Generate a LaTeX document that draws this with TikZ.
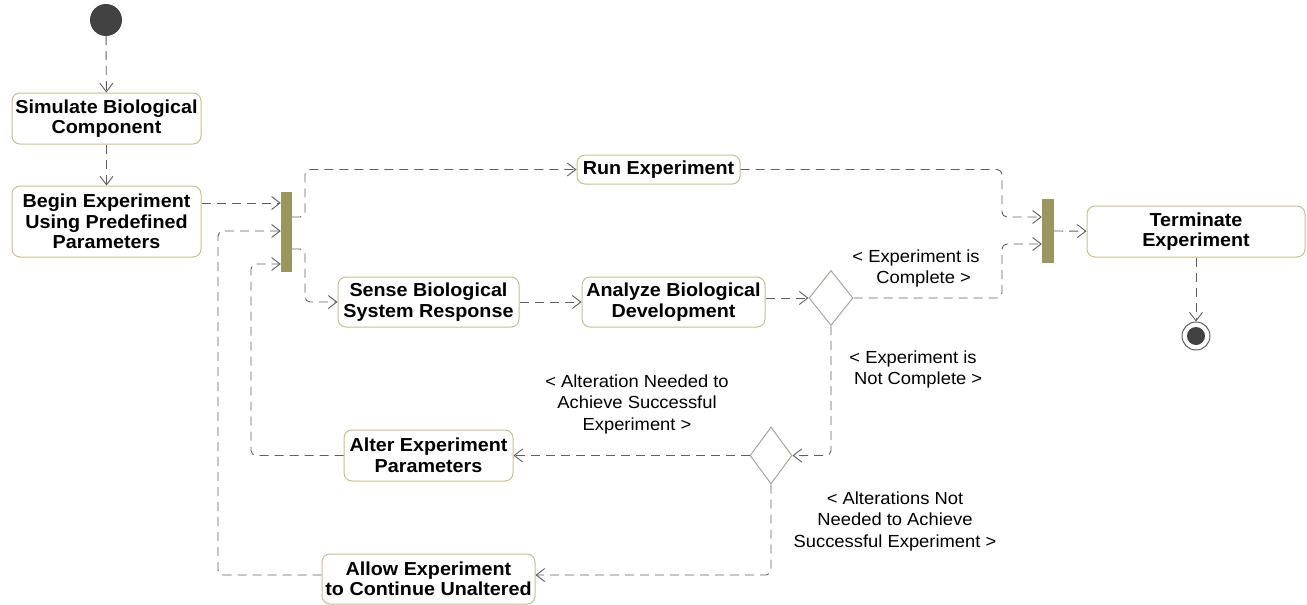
\documentclass[tikz,border=0pt]{standalone}
\usepackage{fontspec}
\setmainfont{Liberation Sans}[FakeStretch=1.05]
\usetikzlibrary{arrows.meta,shapes.geometric}

\definecolor{boxline}{RGB}{196,191,150}
\definecolor{barfill}{RGB}{153,151,95}
\definecolor{flowline}{RGB}{95,95,95}
\definecolor{diamline}{RGB}{165,165,160}
\definecolor{dotfill}{RGB}{66,66,66}

\tikzset{
  action/.style={draw=boxline, line width=1pt, fill=white, rounded corners=8pt,
    align=center, inner sep=0pt,
    font=\bfseries\fontsize{18.8}{20.5}\selectfont},
  forkbar/.style={fill=barfill, draw=none, inner sep=0pt},
  choice/.style={draw=diamline, line width=1pt, fill=white, diamond, inner sep=0pt,
    minimum width=44pt, minimum height=55pt},
  flow/.style={draw=flowline, line width=0.9pt, dash pattern=on 9pt off 6pt,
    rounded corners=5pt, -{Straight Barb[length=8.5pt,width=13pt,line width=0.9pt]}},
  guard/.style={align=center, inner sep=0pt, text=black,
    font=\fontsize{17.5}{21.5}\selectfont},
}

\begin{document}
\begin{tikzpicture}[x=1pt,y=-1pt]
\useasboundingbox (0,0) rectangle (1307,605);

% start and end points
\node[circle, fill=dotfill, minimum size=32pt, inner sep=0pt] (init) at (106,20) {};
\node[circle, draw=flowline, line width=1pt, fill=white, minimum size=28pt, inner sep=0pt] (final) at (1196,336) {};
\node[circle, fill=dotfill, minimum size=18pt, inner sep=0pt] (finaldot) at (final) {};

% actions
\node[action, minimum width=189pt, minimum height=51pt] (sim) at (106.5,118.5) {Simulate Biological\\Component};
\node[action, minimum width=189pt, minimum height=71pt] (begin) at (106.5,221.5) {Begin Experiment\\Using Predefined\\Parameters};
\node[action, minimum width=163pt, minimum height=29pt] (run) at (658.5,169.5) {Run Experiment};
\node[action, minimum width=181pt, minimum height=50pt] (sense) at (428.5,302) {Sense Biological\\System Response};
\node[action, minimum width=183pt, minimum height=50pt] (analyze) at (673.5,302) {Analyze Biological\\Development};
\node[action, minimum width=218pt, minimum height=51pt] (term) at (1196,231.5) {Terminate\\Experiment};
\node[action, minimum width=169pt, minimum height=51pt] (alter) at (428.5,455.5) {Alter Experiment\\Parameters};
\node[action, minimum width=213pt, minimum height=50pt] (allow) at (428.5,579) {Allow Experiment\\to Continue Unaltered};

% fork / join bars
\node[forkbar, minimum width=11pt, minimum height=80pt] (bar1) at (286.5,232) {};
\node[forkbar, minimum width=12pt, minimum height=64pt] (bar2) at (1048,231) {};

% decisions
\node[choice] (dec1) at (831,298) {};
\node[choice, minimum width=42pt, minimum height=57pt] (dec2) at (771,455.5) {};

% guards
\node[guard] (gcomplete) at (916,268.5) {< Experiment is\\\ \ \ Complete >};
\node[guard] (gnotcomplete) at (913,369.5) {< Experiment is\\\ \ Not Complete >};
\node[guard] (galter) at (637,404) {< Alteration Needed to\\Achieve Successful\\Experiment >};
\node[guard] (gnoalter) at (895,521) {< Alterations Not\\Needed to Achieve\\Successful Experiment >};

% control flows
\draw[flow] (init) -- (sim);
\draw[flow] (sim) -- (begin);
\draw[flow] ([yshift=18.5pt]begin.east) -- ([yshift=18.5pt]begin.east -| bar1.west);
\draw[flow] ([yshift=4pt]allow.west) -| (218,231) -- (bar1.west |- 0,231);
\draw[flow] (alter.west) -| (251,264) -- (bar1.west |- 0,264);
\draw[flow] (bar1.east |- 0,217) -| (305,169.5) -- (run.west);
\draw[flow] (bar1.east |- 0,249) -| (305,302) -- (sense.west);
\draw[flow] (sense) -- (analyze);
\draw[flow] (analyze.east |- dec1) -- (dec1.west);
\draw[flow] (run.east) -| (1002,217) -- (bar2.west |- 0,217);
\draw[flow] (dec1.east) -| (1002,244) -- (bar2.west |- 0,244);
\draw[flow] (bar2) -- (term);
\draw[flow] (term) -- (final);
\draw[flow] (dec1.south) |- (dec2.east);
\draw[flow] (dec2.west) -- (alter.east);
\draw[flow] (dec2.south) |- ([yshift=4pt]allow.east);
\end{tikzpicture}
\end{document}
